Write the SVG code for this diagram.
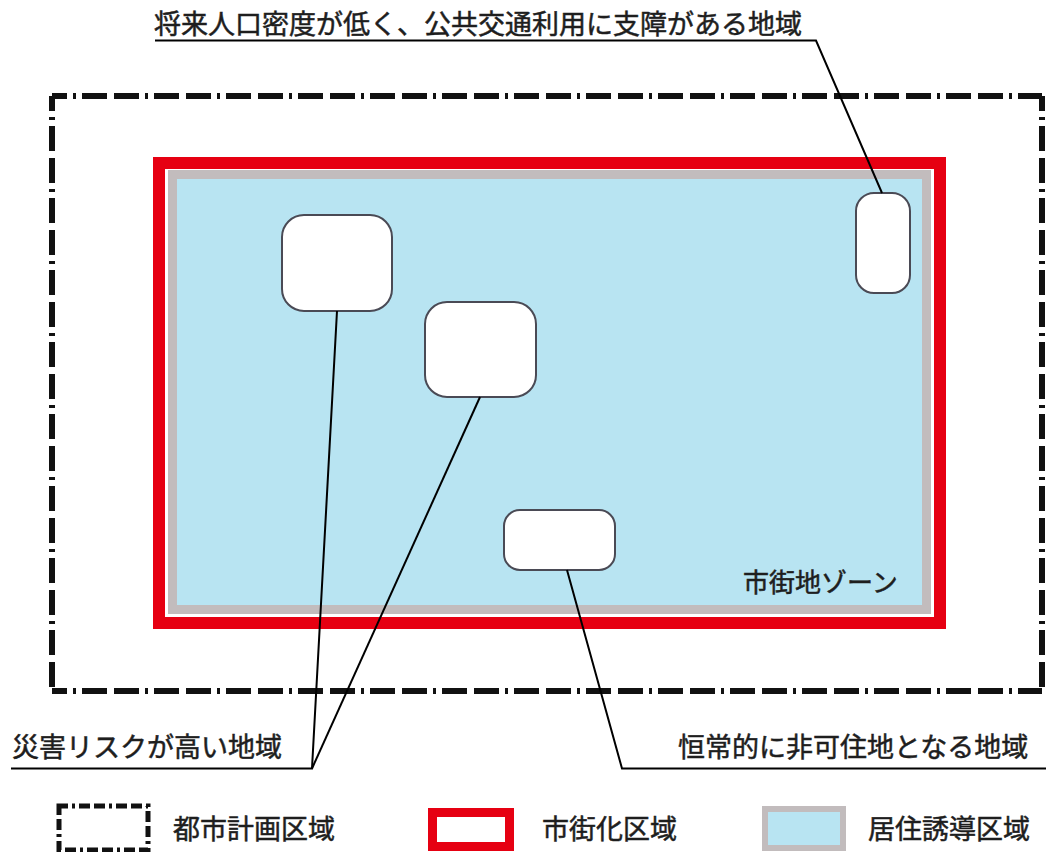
<svg xmlns="http://www.w3.org/2000/svg" width="1046" height="852" viewBox="0 0 1046 852">
<style>
.t{font-family:"Noto Sans CJK JP","Noto Sans",sans-serif;font-size:27px;fill:#1e1e1e;stroke:#1e1e1e;stroke-width:0.5}
.dd{fill:none;stroke:#111;stroke-width:6;stroke-dasharray:3 6 25 7 25 6;stroke-dashoffset:51}
.ddl{fill:none;stroke:#111;stroke-width:5;stroke-dasharray:3 4 11 4 11 4;stroke-dashoffset:24}
.box{fill:#fff;stroke:#4a4a55;stroke-width:2}
.ln{fill:none;stroke:#000;stroke-width:2}
</style>
<rect width="1046" height="852" fill="#fff"/>
<g id="city-planning-area">
<line class="dd" x1="52" y1="96" x2="1042" y2="96"/>
<line class="dd" x1="52" y1="96" x2="52" y2="691"/>
<line class="dd" x1="1042" y1="96" x2="1042" y2="691"/>
<line class="dd" x1="52" y1="691" x2="1042" y2="691"/>
</g>
<g id="urbanization-area">
<rect x="159" y="163" width="781" height="460" fill="#fff" stroke="#e60012" stroke-width="12"/>
</g>
<g id="residence-area">
<rect x="172.5" y="174.5" width="754" height="435" fill="#b8e4f2" stroke="#c2bcbd" stroke-width="9"/>
<text class="t" x="743" y="592" style="font-size:26px">市街地ゾーン</text>
</g>
<g id="box1"><rect class="box" x="282" y="215" width="110" height="96" rx="22" ry="22"/></g>
<g id="box2"><rect class="box" x="425" y="302" width="111" height="95" rx="22" ry="22"/></g>
<g id="box3"><rect class="box" x="504" y="510" width="111" height="60" rx="16" ry="16"/></g>
<g id="box4"><rect class="box" x="856" y="193" width="54" height="100" rx="18" ry="18"/></g>
<g id="connectors">
<polyline class="ln" points="155,40.5 816,40.5 882,193"/>
<polyline class="ln" points="11,768.5 312,768.5 337,311"/>
<polyline class="ln" points="312,768.5 480,397"/>
<polyline class="ln" points="1046,768.5 622,768.5 567,570"/>
</g>
<g id="label-top"><text class="t" x="154" y="34">将来人口密度が低く、公共交通利用に支障がある地域</text></g>
<g id="label-left"><text class="t" x="12" y="757">災害リスクが高い地域</text></g>
<g id="label-right"><text class="t" x="678" y="757">恒常的に非可住地となる地域</text></g>
<g id="legend">
<g id="legend-city"><rect class="ddl" x="59" y="806" width="89" height="44"/><text class="t" x="173" y="839">都市計画区域</text></g>
<g id="legend-urban"><rect x="432.5" y="812.5" width="77" height="34" fill="#fff" stroke="#e60012" stroke-width="9"/><text class="t" x="542" y="839">市街化区域</text></g>
<g id="legend-res"><rect x="765" y="809" width="78" height="39" fill="#b8e4f2" stroke="#c2bcbd" stroke-width="6"/><text class="t" x="868" y="839">居住誘導区域</text></g>
</g>
</svg>
